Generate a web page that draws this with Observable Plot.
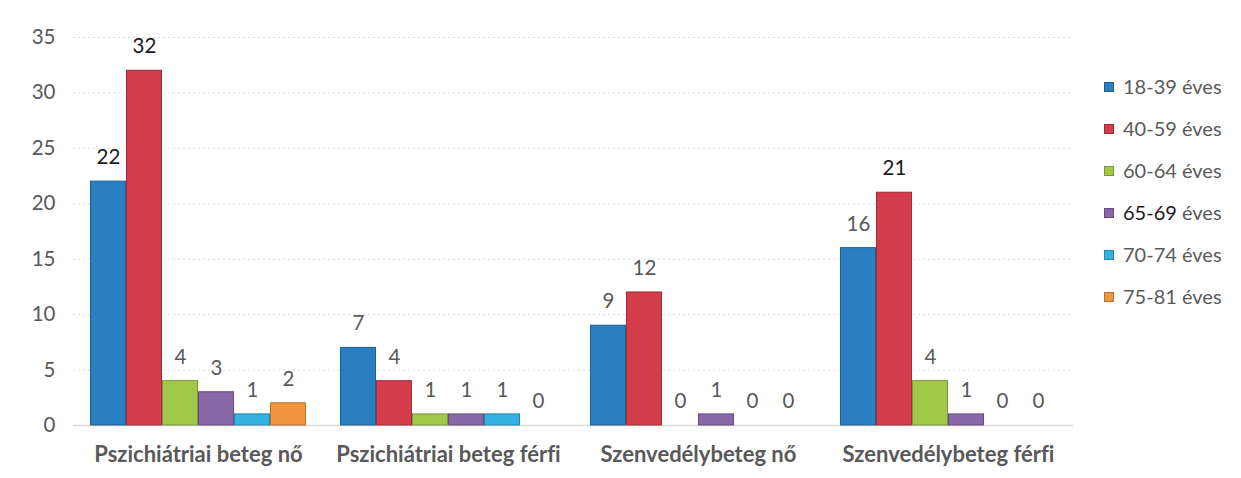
<!DOCTYPE html>
<html>
<head>
<meta charset="utf-8">
<script src="https://cdn.jsdelivr.net/npm/d3@7"></script>
<script src="https://cdn.jsdelivr.net/npm/@observablehq/plot@0.6"></script>
<style>
  html, body { margin: 0; padding: 0; background: #fff; }
  #wrap { position: relative; width: 1241px; height: 478px; font-family: Lato, "Open Sans", sans-serif; }
  #legend { position: absolute; left: 1104px; top: 74px; }
  .item { height: 42px; display: flex; align-items: flex-start; font-size: 20px; color: #5a5a5a; }
  .sw { width: 10px; height: 10px; margin-right: 9px; margin-top: 8px; box-sizing: border-box; }
  svg text { font-variant-ligatures: none; }
</style>
</head>
<body>
<div id="wrap"><div id="chart"></div><div id="legend"></div></div>
<script>
const groups = ["Pszichiátriai beteg nő", "Pszichiátriai beteg férfi", "Szenvedélybeteg nő", "Szenvedélybeteg férfi"];
const series = ["18-39 éves", "40-59 éves", "60-64 éves", "65-69 éves", "70-74 éves", "75-81 éves"];
const colors = ["#2a7ec2", "#d43c4c", "#a2c84a", "#8867a8", "#33b2e3", "#f29540"];
const age18_39 = [22, 7, 9, 16];
const age40_59 = [32, 4, 12, 21];
const age60_64 = [4, 1, 0, 4];
const age65_69 = [3, 1, 1, 1];
const age70_74 = [1, 1, 0, 0];
const age75_81 = [2, 0, 0, 0];
const yTicks = [0, 5, 10, 15, 20, 25, 30, 35];

const seriesValues = [age18_39, age40_59, age60_64, age65_69, age70_74, age75_81];
const data = [];
groups.forEach((g, gi) => series.forEach((s, si) => data.push({group: g, series: s, value: seriesValues[si][gi]})));

const chart = Plot.plot({
  width: 1241,
  height: 478,
  marginLeft: 73,
  marginRight: 168,
  marginTop: 37,
  marginBottom: 53,
  style: {fontFamily: "Lato, 'Open Sans', sans-serif", background: "#fff"},
  fx: {domain: groups, padding: 0, label: null, axis: null},
  x: {domain: series, paddingInner: 0, paddingOuter: 0.41, axis: null},
  y: {domain: [0, 35], ticks: yTicks, label: null, axis: null},
  color: {domain: series, range: colors},
  marks: [
    Plot.gridY(yTicks.filter(t => t > 0), {stroke: "#dcdcdc", strokeOpacity: 1, strokeDasharray: "2,3"}),
    Plot.axisY(yTicks, {tickSize: 0, tickPadding: 18, fontSize: 20.5, fill: "#595959", label: null}),
    Plot.ruleY([0], {stroke: "#d9d9d9", strokeWidth: 1.5}),
    Plot.barY(data, {fx: "group", x: "series", y: "value", fill: "series",
      stroke: d => d3.color(colors[series.indexOf(d.series)]).darker(0.8).formatHex(), strokeWidth: 1, insetLeft: 0.5, insetRight: 0.5}),
    Plot.text(data, {fx: "group", x: "series", y: "value", text: d => String(d.value), dy: -24,
      fontSize: 20.5, fill: d => d.value >= 20 ? "#1a1a1a" : "#595959", fontWeight: d => d.value >= 20 ? 600 : 400}),
    Plot.axisFx({anchor: "bottom", tickSize: 0, tickPadding: 21, fontSize: 22, fontWeight: "bold", fill: "#595959", label: null})
  ]
});
document.getElementById("chart").appendChild(chart);

const legend = document.getElementById("legend");
series.forEach((s, i) => {
  const item = document.createElement("div");
  item.className = "item";
  const sw = document.createElement("div");
  sw.className = "sw";
  sw.style.background = colors[i];
  sw.style.border = "1px solid " + d3.color(colors[i]).darker(0.8).formatHex();
  const label = document.createElement("span");
  if (i === 3) {
    label.innerHTML = '<span style="color:#1a1a1a">' + s.split(" ")[0] + '</span> ' + s.split(" ")[1];
  } else {
    label.textContent = s;
  }
  item.appendChild(sw);
  item.appendChild(label);
  legend.appendChild(item);
});
</script>
</body>
</html>
